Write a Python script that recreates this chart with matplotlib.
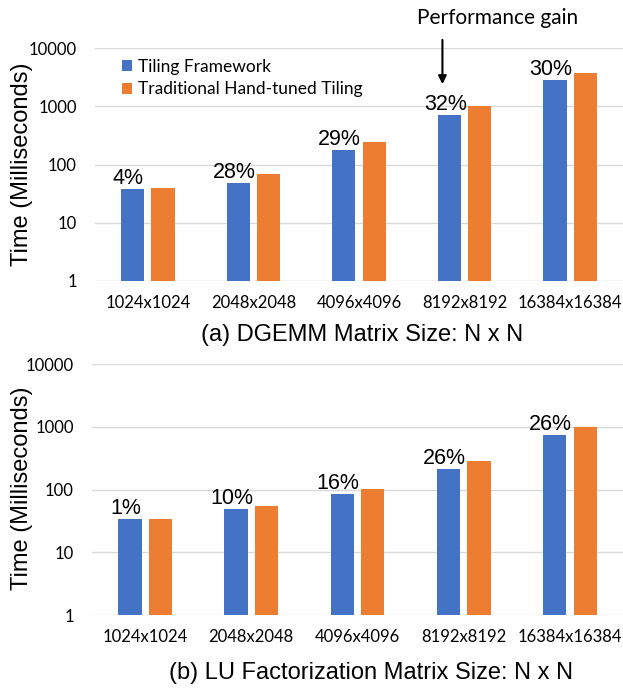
import matplotlib
matplotlib.use("Agg")
import matplotlib.pyplot as plt
import numpy as np

sizes = ["1024x1024", "2048x2048", "4096x4096", "8192x8192", "16384x16384"]

dgemm_framework = [37.5, 49, 175, 700, 2790]
dgemm_handtuned = [40, 69, 246, 1010, 3680]
dgemm_gain = ["4%", "28%", "29%", "32%", "30%"]

lu_framework = [33.6, 48.5, 85, 210, 742]
lu_handtuned = [33.4, 54, 101, 286, 1007]
lu_gain = ["1%", "10%", "16%", "26%", "26%"]

BLUE = "#4472C4"
ORANGE = "#ED7D31"
GRID = "#d9d9d9"
SANS = "Liberation Sans"
CAL = "Lato"

fig = plt.figure(figsize=(6.23, 6.88), dpi=100)
ax1 = fig.add_axes([0.1525, 0.5916, 0.8475, 0.3386])
ax2 = fig.add_axes([0.1477, 0.1061, 0.8523, 0.3644])

x = np.arange(len(sizes))
w = 0.22
off = 0.144


def draw(ax, fw, ht, gains):
    b1 = ax.bar(x - off, fw, w, color=BLUE, label="Tiling Framework", zorder=3)
    b2 = ax.bar(x + off, ht, w, color=ORANGE, label="Traditional Hand-tuned Tiling", zorder=3)
    ax.set_yscale("log")
    ax.set_ylim(1, 10000)
    ax.set_xlim(-0.5, len(sizes) - 0.5)
    ax.set_yticks([1, 10, 100, 1000, 10000])
    ax.set_yticklabels(["1", "10", "100", "1000", "10000"])
    ax.minorticks_off()
    ax.set_xticks(x)
    ax.set_xticklabels(sizes)
    ax.tick_params(axis="both", length=0)
    ax.tick_params(axis="y", pad=13)
    ax.tick_params(axis="x", pad=10)
    for lab in ax.get_xticklabels() + ax.get_yticklabels():
        lab.set_fontfamily(CAL)
        lab.set_fontsize(12)
    for s in ax.spines.values():
        s.set_visible(False)
    ax.grid(axis="y", color=GRID, linewidth=1, zorder=0)
    for xi, v, g in zip(x, fw, gains):
        ax.annotate(g, (xi - off, v), xytext=(-3, 0), textcoords="offset points",
                    ha="center", va="bottom", fontsize=15.5, family=SANS, zorder=4)
    return b1, b2


draw(ax1, dgemm_framework, dgemm_handtuned, dgemm_gain)
draw(ax2, lu_framework, lu_handtuned, lu_gain)

leg = ax1.legend(loc="upper left", bbox_to_anchor=(0.051, 0.955), frameon=False,
                 prop={"family": CAL, "size": 12.5}, handlelength=0.6, handleheight=0.6,
                 handletextpad=0.3, labelspacing=0.4, borderpad=0, borderaxespad=0)

# performance gain arrow
ax1.annotate("", xy=(2.79, 0.833), xytext=(2.79, 1.047),
             xycoords=("data", "axes fraction"), textcoords=("data", "axes fraction"),
             arrowprops=dict(arrowstyle="-|>", color="black", lw=1.5, mutation_scale=12),
             annotation_clip=False)
ax1.text(3.31, 1.13, "Performance gain", transform=ax1.get_xaxis_transform(),
         ha="center", va="center", fontsize=15, family=CAL)

fig.text(0.035, 0.761, "Time (Milliseconds)", rotation=90, ha="center", va="center",
         fontsize=17, family=SANS)
fig.text(0.035, 0.291, "Time (Milliseconds)", rotation=90, ha="center", va="center",
         fontsize=17, family=SANS)

fig.text(362 / 623, 1 - 335 / 688, "(a) DGEMM Matrix Size: N x N", ha="center", va="center",
         fontsize=17, family=SANS)
fig.text(371.5 / 623, 1 - 673 / 688, "(b) LU Factorization Matrix Size: N x N", ha="center",
         va="center", fontsize=17, family=SANS)

fig.savefig("out.png", dpi=100)
